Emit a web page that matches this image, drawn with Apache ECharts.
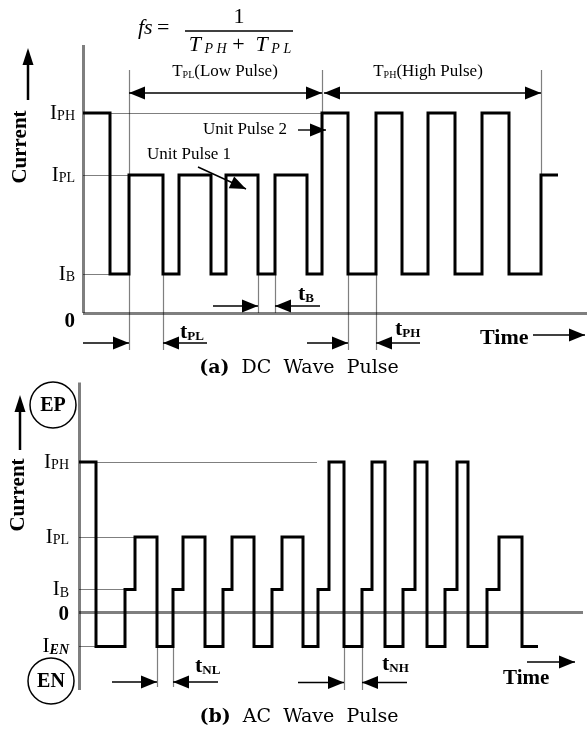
<!DOCTYPE html>
<html><head><meta charset="utf-8">
<script src="https://cdn.jsdelivr.net/npm/echarts@6/dist/echarts.min.js"></script>
<style>html,body{margin:0;padding:0;background:#fff}#c{width:587px;height:729px}</style>
</head><body><div id="c"></div>
<script>
// ---------- (a) DC wave pulse ----------
const dcLevelValues = {Z: 0, IB: 19.5, IPL: 69, IPH: 100};
const dcEdges = [0, 13.5, 23, 40, 48, 64, 71.5, 87.5, 96, 112, 119.5, 132.5, 146.5, 159.5, 172.5, 186, 199.5, 213, 229, 237.5];
const dcLevels = ['IPH','IB','IPL','IB','IPL','IB','IPL','IB','IPL','IB','IPH','IB','IPH','IB','IPH','IB','IPH','IB','IPL'];
const dcTicks = [['Z','0',''], ['IB','I','B'], ['IPL','I','PL'], ['IPH','I','PH']];
// thin guide lines [x1,y1,x2,y2]
const dcGuides = [
  [0,100,119.5,100], [0,69,23,69], [0,19.5,13.5,19.5],
  [23,121.5,23,-18.5], [119.5,121.5,119.5,19.5], [229,121.5,229,69],
  [40,19.5,40,-18.5], [87.5,19.5,87.5,0], [96,19.5,96,0],
  [132.5,19.5,132.5,-18.5], [146.5,19.5,146.5,-18.5]
];
const dcAxes = [[0,0,0,134],[0,0,252,0]];
// arrows [x1,y1,x2(tip),y2(tip),doubleHeaded]
const dcArrows = [
  [23,110,119.5,110,1], [120.5,110,229,110,1],
  [107.5,91.5,121.5,91.5,0], [57.5,73,81.5,62,0],
  [0,-15,23,-15,0], [62,-15,40,-15,0],
  [65,3.5,87.5,3.5,0], [118.5,3.5,96,3.5,0],
  [112,-15,132.5,-15,0], [168.5,-15,146.5,-15,0],
  [225,-11,251,-11,0]
];
// ---------- (b) AC wave pulse ----------
const acLevelValues = {IEN: -23, Z: 0, IB: 15, IPL: 50, IPH: 100};
const acEdges = [0, 8.5, 23, 28, 39, 47, 52, 63, 72, 76.5, 87.5, 96.5, 101.5, 112, 119.5, 125, 132.5, 141.5, 146.5, 153, 162, 168, 174, 183, 189, 194.5, 204, 210, 221.5, 229.5];
const acLevels = ['IPH','IEN','IB','IPL','IEN','IB','IPL','IEN','IB','IPL','IEN','IB','IPL','IEN','IB','IPH','IEN','IB','IPH','IEN','IB','IPH','IEN','IB','IPH','IEN','IB','IPL','IEN'];
const acTicks = [['IEN','I','EN'], ['Z','0',''], ['IB','I','B'], ['IPL','I','PL'], ['IPH','I','PH']];
const acGuides = [
  [0,100,119,100], [0,50,28,50], [0,15,23,15], [0,-23,8.5,-23],
  [39,-23,39,-50], [47,-23,47,-50],
  [132.5,-23,132.5,-52], [141.5,-23,141.5,-52]
];
const acAxes = [[0,-52,0,153],[0,0,252,0]];
const acArrows = [
  [16.5,-46.7,39,-46.7,0], [69.5,-46.7,47,-46.7,0],
  [109.5,-47,132.5,-47,0], [164,-47,141.5,-47,0],
  [224,-33.3,248,-33.3,0]
];

const SERIF = 'Liberation Serif';
function buildStep(edges, levels, vals) {
  const pts = [];
  for (let i = 0; i < levels.length; i++) pts.push([edges[i], vals[levels[i]]]);
  pts.push([edges[edges.length - 1], vals[levels[levels.length - 1]]]);
  return pts;
}
function segData(list) { return list.map(g => ({coords: [[g[0], g[1]], [g[2], g[3]]]})); }
function head(tip, from, L, W) {
  const dx = tip[0] - from[0], dy = tip[1] - from[1];
  const len = Math.hypot(dx, dy) || 1; const ux = dx / len, uy = dy / len;
  const bx = tip[0] - ux * L, by = tip[1] - uy * L;
  return {type: 'polygon', shape: {points: [tip, [bx - uy * W, by + ux * W], [bx + uy * W, by - ux * W]]}, style: {fill: '#000'}};
}
function arrowRender(params, api) {
  const p1 = api.coord([api.value(0), api.value(1)]);
  const p2 = api.coord([api.value(2), api.value(3)]);
  const ch = [{type: 'line', shape: {x1: p1[0], y1: p1[1], x2: p2[0], y2: p2[1]}, style: {stroke: '#000', lineWidth: 1.4}}];
  ch.push(head(p2, p1, 16, 6.5));
  if (api.value(4)) ch.push(head(p1, p2, 16, 6.5));
  return {type: 'group', children: ch};
}
function tickAxis(gridIndex, min, max, ticks, vals, margin, zeroPad) {
  const map = {};
  ticks.forEach(t => { map[vals[t[0]]] = t; });
  return {
    gridIndex, type: 'value', min, max,
    axisLine: {show: false}, axisTick: {show: false}, splitLine: {show: false},
    axisLabel: {
      customValues: ticks.map(t => vals[t[0]]), margin,
      formatter: v => { const t = map[v]; if (!t) return ''; return t[2] ? '{i|' + t[1] + '}{' + (t[0] === 'IEN' ? 'se' : 's') + '|' + t[2] + '}' : '{z|' + t[1] + '}'; },
      rich: {
        i: {fontFamily: SERIF, fontSize: 21, color: '#000', verticalAlign: 'bottom'},
        s: {fontFamily: SERIF, fontSize: 14, color: '#000', verticalAlign: 'bottom'},
        se: {fontFamily: SERIF, fontSize: 14, fontStyle: 'italic', fontWeight: 'bold', color: '#000', verticalAlign: 'bottom'},
        z: {fontFamily: SERIF, fontSize: 21, fontWeight: 'bold', color: '#000', padding: [zeroPad, 0, 0, 0]}
      }
    }
  };
}

const richT = {
  t: {fontFamily: SERIF, fontSize: 22, fontWeight: 'bold', fill: '#000', verticalAlign: 'bottom'},
  ts: {fontFamily: SERIF, fontSize: 13, fontWeight: 'bold', fill: '#000', verticalAlign: 'bottom'},
  T: {fontFamily: SERIF, fontSize: 17, fill: '#000', verticalAlign: 'bottom'},
  Ts: {fontFamily: SERIF, fontSize: 10, fill: '#000', verticalAlign: 'bottom'},
  n: {fontFamily: SERIF, fontSize: 17, fill: '#000', verticalAlign: 'bottom'}
};
function txt(x, y, text, extra) {
  return Object.assign({type: 'text', x, y, silent: true, style: Object.assign({text, fill: '#000', font: '17px "Liberation Serif"', align: 'left', verticalAlign: 'middle', rich: richT}, extra || {})});
}
function upArrow(x, y1, y2) {
  return [
    {type: 'line', shape: {x1: x, y1: y1, x2: x, y2: y2 + 14}, style: {stroke: '#000', lineWidth: 2.5}},
    {type: 'polygon', shape: {points: [[x, y2], [x - 5.5, y2 + 17], [x + 5.5, y2 + 17]]}, style: {fill: '#000'}}
  ];
}

const graphics = [
  // formula
  txt(138, 28, '{a|fs} {b|=}', {rich: {a: {fontFamily: SERIF, fontSize: 22, fontStyle: 'italic', fill: '#000'}, b: {fontFamily: SERIF, fontSize: 22, fill: '#000'}}}),
  txt(239, 17, '1', {font: '22px "Liberation Serif"', align: 'center'}),
  {type: 'line', shape: {x1: 185, y1: 31, x2: 293, y2: 31}, style: {stroke: '#000', lineWidth: 1.5}},
  txt(240, 45, '{a|T}{b| P H}{c| +  }{a|T}{b| P L}', {align: 'center', rich: {
    a: {fontFamily: SERIF, fontSize: 22, fontStyle: 'italic', fill: '#000', verticalAlign: 'bottom'},
    b: {fontFamily: SERIF, fontSize: 14, fontStyle: 'italic', fill: '#000', verticalAlign: 'bottom'},
    c: {fontFamily: SERIF, fontSize: 22, fill: '#000', verticalAlign: 'bottom'}}}),
  txt(225, 72, '{T|T}{Ts|PL}{n|(Low Pulse)}', {align: 'center'}),
  txt(428, 72, '{T|T}{Ts|PH}{n|(High Pulse)}', {align: 'center'}),
  txt(203, 130, 'Unit Pulse 2'),
  txt(147, 155, 'Unit Pulse 1'),
  txt(180, 332, '{t|t}{ts|PL}'),
  txt(298, 294, '{t|t}{ts|B}'),
  txt(395, 329, '{t|t}{ts|PH}'),
  txt(480, 338, 'Time', {font: 'bold 22px "Liberation Serif"'}),
  {type: 'text', x: 21, y: 147, rotation: Math.PI / 2, silent: true, style: {text: 'Current', font: 'bold 21px "Liberation Serif"', fill: '#000', align: 'center', verticalAlign: 'middle'}},
  ...upArrow(28, 100, 48),
  txt(299, 368, '{a|(a)}  DC  Wave  Pulse', {align: 'center', font: '19px "DejaVu Serif"', rich: {a: {fontFamily: 'DejaVu Serif', fontSize: 19, fontWeight: 'bold', fill: '#000'}}}),
  // (b)
  {type: 'text', x: 19, y: 495, rotation: Math.PI / 2, silent: true, style: {text: 'Current', font: 'bold 21px "Liberation Serif"', fill: '#000', align: 'center', verticalAlign: 'middle'}},
  ...upArrow(20, 450, 395),
  {type: 'circle', shape: {cx: 53, cy: 405, r: 23}, style: {fill: 'none', stroke: '#000', lineWidth: 1.5}},
  txt(53, 406, 'EP', {align: 'center', font: 'bold 20px "Liberation Serif"'}),
  {type: 'circle', shape: {cx: 51, cy: 681, r: 23}, style: {fill: 'none', stroke: '#000', lineWidth: 1.5}},
  txt(51, 682, 'EN', {align: 'center', font: 'bold 20px "Liberation Serif"'}),
  txt(195, 666, '{t|t}{ts|NL}'),
  txt(382, 664, '{t|t}{ts|NH}'),
  txt(503, 679, 'Time', {font: 'bold 21px "Liberation Serif"'}),
  txt(299, 717, '{a|(b)}  AC  Wave  Pulse', {align: 'center', font: '19px "DejaVu Serif"', rich: {a: {fontFamily: 'DejaVu Serif', fontSize: 19, fontWeight: 'bold', fill: '#000'}}})
];

const chart = echarts.init(document.getElementById('c'), null, {renderer: 'canvas'});
const thin = {color: '#000', width: 1.2};
chart.setOption({
  animation: false,
  backgroundColor: '#fff',
  grid: [
    {left: 83, right: 0, top: 45, bottom: 376},
    {left: 79, right: 0, top: 382.5, bottom: 39}
  ],
  xAxis: [
    {gridIndex: 0, type: 'value', min: 0, max: 252, show: false},
    {gridIndex: 1, type: 'value', min: 0, max: 254, show: false}
  ],
  yAxis: [
    tickAxis(0, -20, 134, dcTicks, dcLevelValues, 8, 18),
    tickAxis(1, -52, 153, acTicks, acLevelValues, 10, 6)
  ],
  series: [
    {type: 'lines', coordinateSystem: 'cartesian2d', xAxisIndex: 0, yAxisIndex: 0, data: segData(dcGuides), lineStyle: thin, silent: true},
    {type: 'lines', coordinateSystem: 'cartesian2d', xAxisIndex: 0, yAxisIndex: 0, data: segData(dcAxes), lineStyle: {color: '#000', width: 3}, silent: true},
    {type: 'line', xAxisIndex: 0, yAxisIndex: 0, step: 'end', data: buildStep(dcEdges, dcLevels, dcLevelValues), symbol: 'none', clip: false, lineStyle: {color: '#000', width: 3, join: 'miter'}, silent: true},
    {type: 'custom', xAxisIndex: 0, yAxisIndex: 0, data: dcArrows, renderItem: arrowRender, clip: false, silent: true},
    {type: 'lines', coordinateSystem: 'cartesian2d', xAxisIndex: 1, yAxisIndex: 1, data: segData(acGuides), lineStyle: thin, silent: true},
    {type: 'lines', coordinateSystem: 'cartesian2d', xAxisIndex: 1, yAxisIndex: 1, data: segData(acAxes), lineStyle: {color: '#000', width: 3}, silent: true},
    {type: 'line', xAxisIndex: 1, yAxisIndex: 1, step: 'end', data: buildStep(acEdges, acLevels, acLevelValues), symbol: 'none', clip: false, lineStyle: {color: '#000', width: 3, join: 'miter'}, silent: true},
    {type: 'custom', xAxisIndex: 1, yAxisIndex: 1, data: acArrows, renderItem: arrowRender, clip: false, silent: true}
  ],
  graphic: graphics
});
</script></body></html>
